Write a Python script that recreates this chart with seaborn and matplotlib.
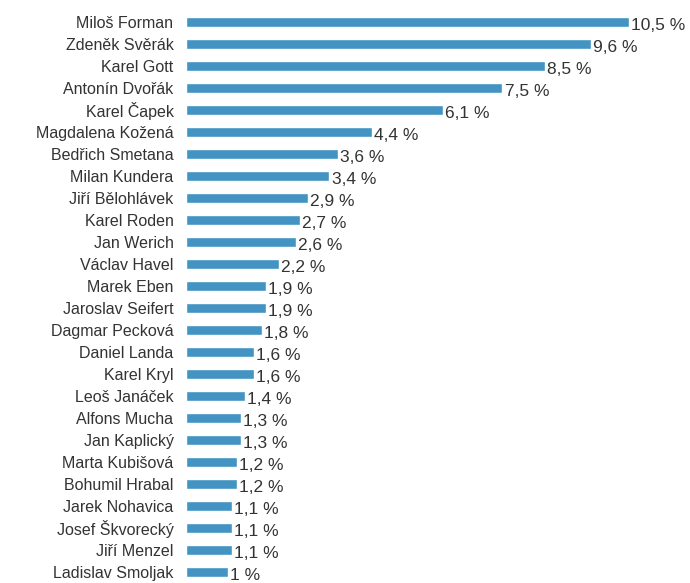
import matplotlib
matplotlib.use("Agg")
import matplotlib.pyplot as plt
import seaborn as sns
import pandas as pd

NAMES = [
    "Miloš Forman", "Zdeněk Svěrák", "Karel Gott", "Antonín Dvořák", "Karel Čapek",
    "Magdalena Kožená", "Bedřich Smetana", "Milan Kundera", "Jiří Bělohlávek",
    "Karel Roden", "Jan Werich", "Václav Havel", "Marek Eben", "Jaroslav Seifert",
    "Dagmar Pecková", "Daniel Landa", "Karel Kryl", "Leoš Janáček", "Alfons Mucha",
    "Jan Kaplický", "Marta Kubišová", "Bohumil Hrabal", "Jarek Nohavica",
    "Josef Škvorecký", "Jiří Menzel", "Ladislav Smoljak",
]
SHARES = [10.5, 9.6, 8.5, 7.5, 6.1, 4.4, 3.6, 3.4, 2.9, 2.7, 2.6, 2.2, 1.9, 1.9,
          1.8, 1.6, 1.6, 1.4, 1.3, 1.3, 1.2, 1.2, 1.1, 1.1, 1.1, 1.0]

df = pd.DataFrame({"name": NAMES, "share": SHARES})

sns.set_theme(style="white")
plt.rcParams["font.family"] = ["Liberation Sans", "DejaVu Sans"]

fig = plt.figure(figsize=(6.9, 5.83), dpi=100)
ax = fig.add_axes([186 / 690, 0.0, 443 / 690, 572 / 583])
sns.barplot(data=df, x="share", y="name", color="#4393c3", saturation=1,
            width=0.47, ax=ax)
ax.set_xlim(0, 10.5)
ax.set_ylim(len(NAMES) - 0.5, -0.5)

# value labels, Czech decimal comma
for i, v in enumerate(SHARES):
    txt = f"{v:.1f}".replace(".", ",") if v != int(v) else f"{int(v)}"
    ax.annotate(f"{txt} %", xy=(v, i), xytext=(1.5, -2.5), textcoords="offset points",
                ha="left", va="center", fontsize=12.5, color="#333333",
                annotation_clip=False)

ax.set_xlabel("")
ax.set_ylabel("")
ax.set_xticks([])
ax.tick_params(axis="y", length=0, pad=9, labelsize=11.5, labelcolor="#333333")
sns.despine(ax=ax, left=True, bottom=True)

fig.savefig("out.png", dpi=100)
